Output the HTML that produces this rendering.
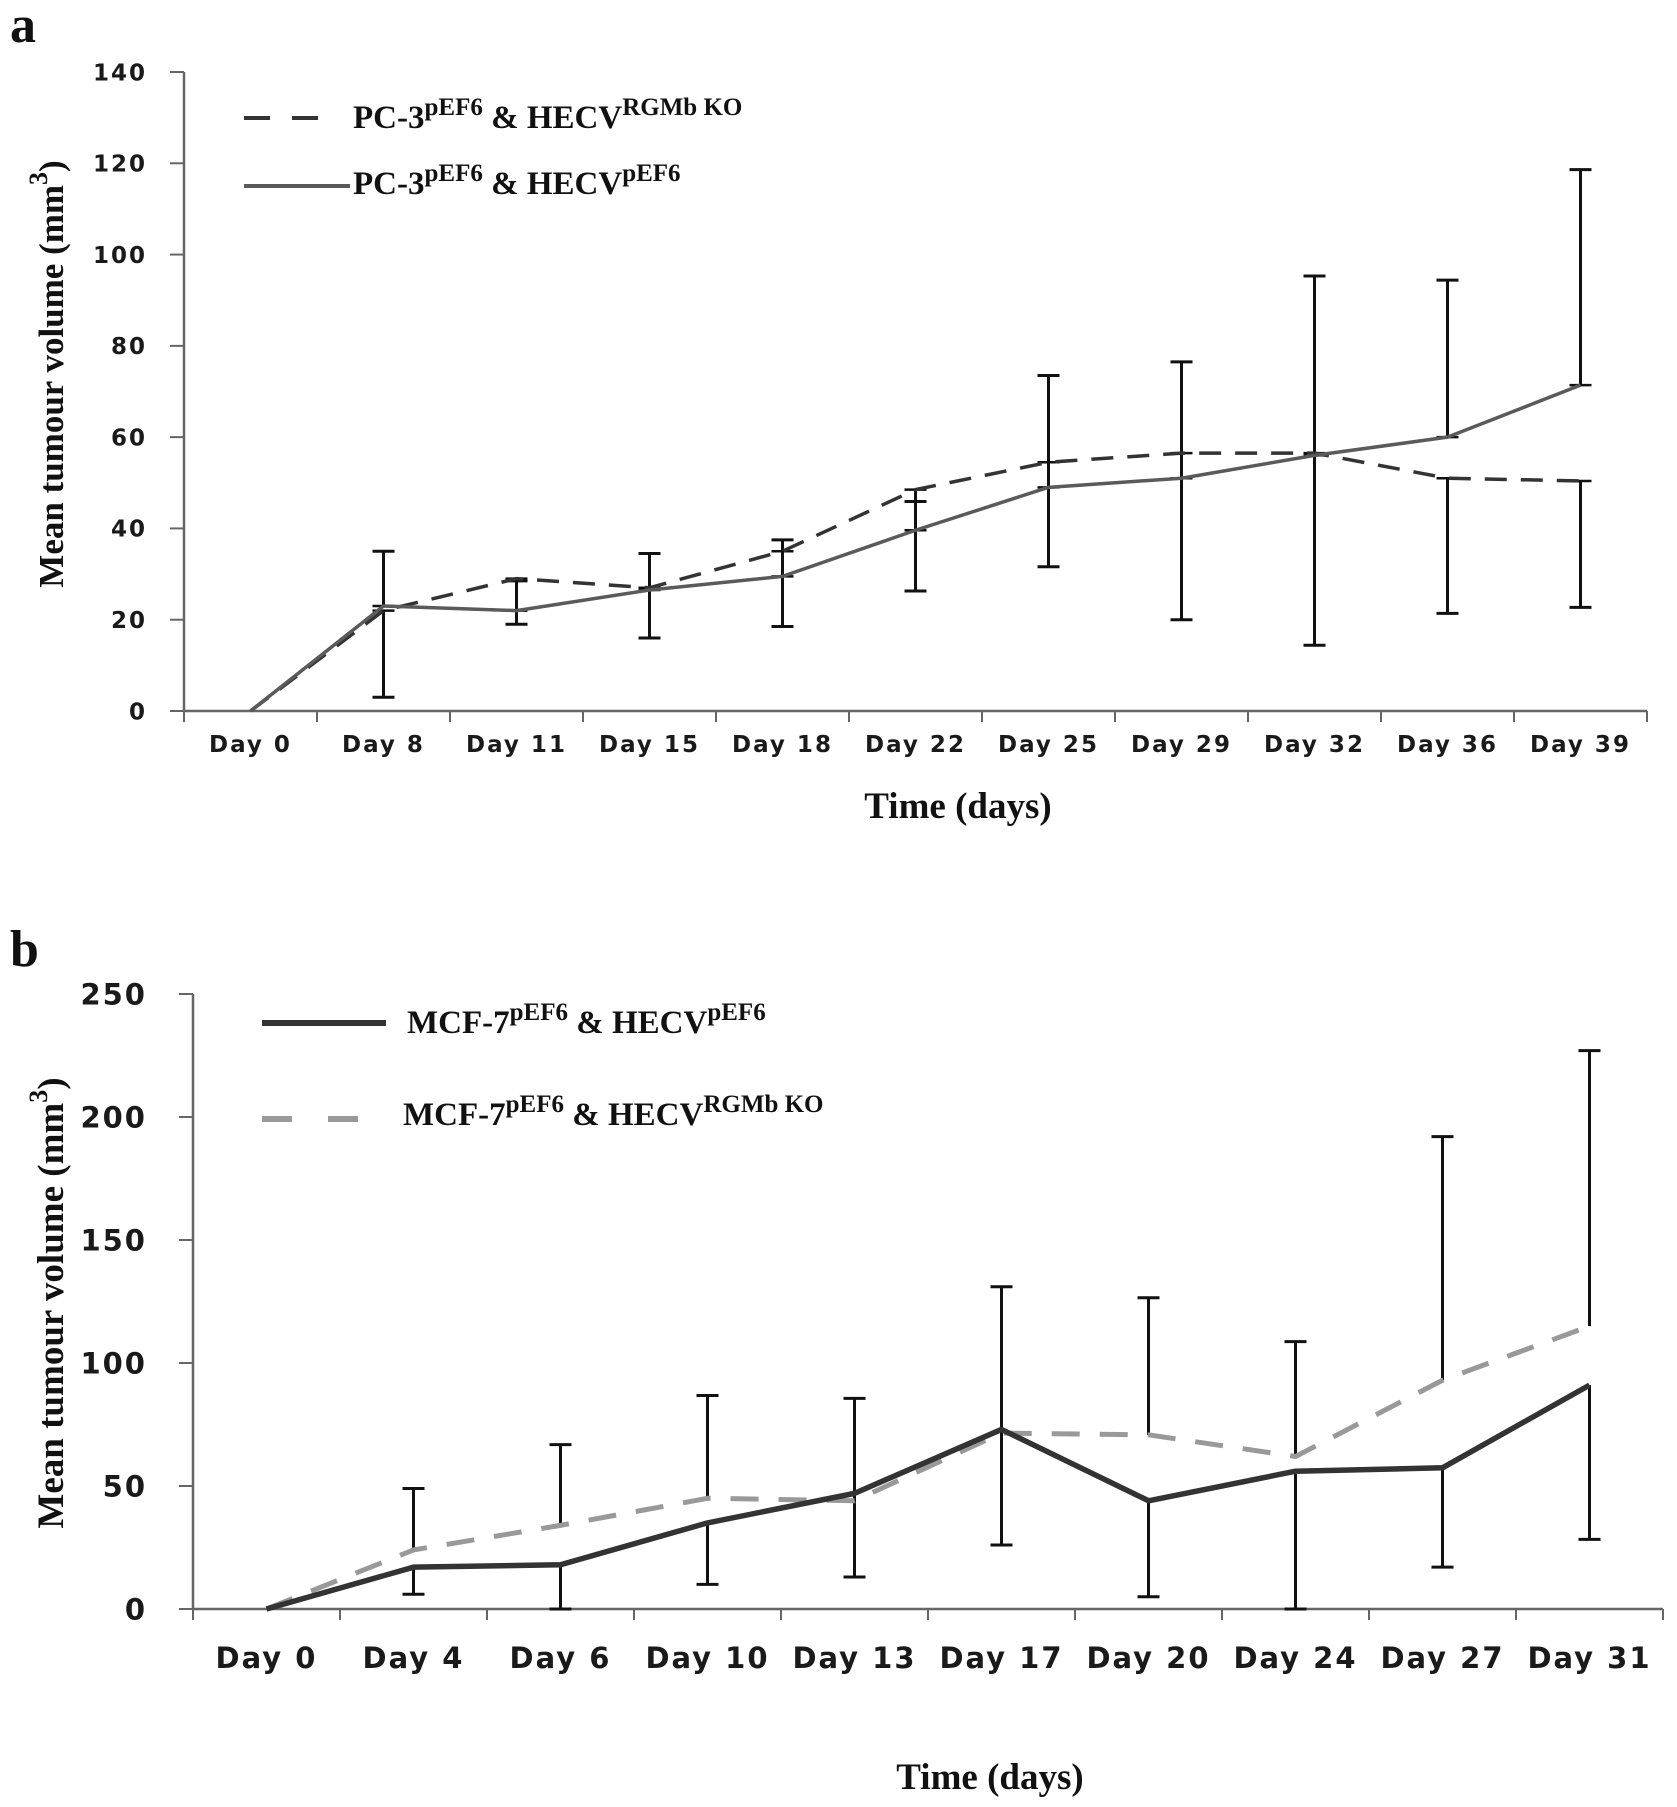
<!DOCTYPE html>
<html><head><meta charset="utf-8">
<style>
html,body{margin:0;padding:0;background:#fff;}
svg{display:block;}
.tick{font-family:"DejaVu Sans",sans-serif;font-weight:bold;font-size:23px;letter-spacing:2px;fill:#1a1a1a;}
.tickb{font-family:"DejaVu Sans",sans-serif;font-weight:bold;font-size:29px;letter-spacing:2px;fill:#1a1a1a;}
.ser{font-family:"Liberation Serif",serif;font-weight:bold;fill:#111;}
</style></head>
<body>
<svg id="chart" width="1677" height="1807" viewBox="0 0 1677 1807" xmlns="http://www.w3.org/2000/svg">
<text class="ser" x="10" y="42" font-size="52">a</text>
<text class="ser" x="10" y="966" font-size="52">b</text>
</svg>
<script>
// ---- Panel a data ----
const catsA = ["Day 0","Day 8","Day 11","Day 15","Day 18","Day 22","Day 25","Day 29","Day 32","Day 36","Day 39"];
const ticksA = [0,20,40,60,80,100,120,140];
const koA = [0,22,29,27,35,48.5,54.5,56.5,56.5,51,50.4];
const koLowA = [null,3,19,16,18.5,26.3,31.6,20,14.4,21.4,22.7];
const ctlA = [0,23,22,26.5,29.5,39.6,49,51,56,60,71.4];
const ctlHighA = [null,35,28.5,34.5,37.5,45.9,73.5,76.5,95.3,94.4,118.6];
// ---- Panel b data ----
const catsB = ["Day 0","Day 4","Day 6","Day 10","Day 13","Day 17","Day 20","Day 24","Day 27","Day 31"];
const ticksB = [0,50,100,150,200,250];
const ctlB = [0,17,18,35,47,73,44,56,57.4,91];
const ctlLowB = [null,6,0,10,13,26,5,0,17,28.3];
const koB = [0,24,34,45,44,71.5,70.8,62,93,115];
const koHighB = [null,49,66.8,86.8,85.6,131,126.5,108.7,192,227];

const NS="http://www.w3.org/2000/svg";
const svg=document.getElementById('chart');
function mk(tag,attrs,parent){const e=document.createElementNS(NS,tag);for(const k in attrs)e.setAttribute(k,attrs[k]);(parent||svg).appendChild(e);return e;}

function panel(o){
  const g=mk('g',{});
  
  
  const n=o.cats.length, step=(o.x1-o.x0)/n;
  const X=i=>o.x0+step*(i+0.5);
  const Y=v=>o.y0-(v-0)/(o.ymax)*(o.y0-o.yTop);
  const ya=mk('line',{x1:o.x0,y1:o.yTop,x2:o.x0,y2:o.y0,stroke:'#666','stroke-width':2.5},g);
  
  const xa=mk('line',{x1:o.x0,y1:o.y0,x2:o.x1,y2:o.y0,stroke:'#666','stroke-width':2.5},g);
  
  o.ticks.forEach(t=>{
    mk('line',{x1:o.x0-14,y1:Y(t),x2:o.x0,y2:Y(t),stroke:'#666','stroke-width':2},g);
    const tx=mk('text',{x:o.ylx,y:Y(t)+o.fs*0.36,'text-anchor':'end',class:o.tcls},g);
    
    tx.textContent=t;
  });
  for(let i=0;i<=n;i++) mk('line',{x1:o.x0+step*i,y1:o.y0,x2:o.x0+step*i,y2:o.y0+11,stroke:'#666','stroke-width':2},g);
  o.cats.forEach((c,i)=>{
    const tx=mk('text',{x:X(i),y:o.xly,'text-anchor':'middle',class:o.tcls},g);
    
    tx.textContent=c;
  });
  o.errs.forEach(er=>{
    er.means.forEach((m,i)=>{
      if(er.ends[i]===null)return;
      const e=er.ends[i];
      const ln=mk('line',{x1:X(i),y1:Y(m),x2:X(i),y2:Y(e),stroke:'#111','stroke-width':3},g);
      
      mk('line',{x1:X(i)-11,y1:Y(e),x2:X(i)+11,y2:Y(e),stroke:'#111','stroke-width':3},g);
      if(er.bothCaps) mk('line',{x1:X(i)-11,y1:Y(m),x2:X(i)+11,y2:Y(m),stroke:'#111','stroke-width':2.5},g);
    });
  });
  o.series.forEach(s=>{
    const p=mk('polyline',{points:s.vals.map((v,i)=>X(i)+','+Y(v)).join(' '),fill:'none',stroke:s.color,'stroke-width':s.w,'stroke-dasharray':s.dash||'none','stroke-linejoin':'round'},g);
    
  });
  o.legend.forEach(l=>{
    const lg=mk('g',{},g);
    
    mk('line',{x1:l.lx0,y1:l.ly,x2:l.lx1,y2:l.ly,stroke:l.color,'stroke-width':l.w,'stroke-dasharray':l.dash||'none'},lg);
    const t=mk('text',{x:l.tx,y:l.ty,class:'ser','font-size':o.lfs},lg);
    t.innerHTML=l.html;
  });
  const yt=mk('text',{x:0,y:0,class:'ser','font-size':o.ytfs,'text-anchor':'middle',transform:`translate(${o.ytx},${o.yty}) rotate(-90)`},g);
  
  yt.innerHTML='Mean tumour volume (mm<tspan dy="-16" font-size="26">3</tspan><tspan dy="16">)</tspan>';
  const xt=mk('text',{x:o.xtx,y:o.xty,class:'ser','font-size':37,'text-anchor':'middle'},g);
  
  xt.textContent='Time (days)';
}

const sup=(a)=>`<tspan dy="-13" font-size="25">${a}</tspan><tspan dy="13">`;
panel({name:'panel-a-chart',cats:catsA,ticks:ticksA,x0:184,x1:1647,y0:711,yTop:72,ymax:140,fs:23,tcls:'tick',xly:752,ylx:147,
  errs:[{means:ctlA,ends:ctlHighA,bothCaps:true},{means:koA,ends:koLowA,bothCaps:true}],
  series:[{name:'series-ko-dashed',vals:koA,color:'#333',w:3.5,dash:'22 14'},{name:'series-control-solid',vals:ctlA,color:'#5a5a5a',w:3.5}],
  lfs:33,legend:[
    {lx0:244,lx1:338,ly:118,color:'#333',w:4,dash:'26 22',tx:353,ty:128,html:'PC-3'+sup('pEF6')+' &amp; HECV'+sup('RGMb KO')+'</tspan></tspan>'},
    {lx0:244,lx1:350,ly:186,color:'#5a5a5a',w:4,tx:353,ty:194,html:'PC-3'+sup('pEF6')+' &amp; HECV'+sup('pEF6')+'</tspan></tspan>'}],
  ytfs:35,ytx:63,yty:374,xtx:958,xty:818});
panel({name:'panel-b-chart',cats:catsB,ticks:ticksB,x0:193,x1:1663,y0:1609,yTop:994,ymax:250,fs:29,tcls:'tickb',xly:1668,ylx:147,
  errs:[{means:koB,ends:koHighB},{means:ctlB,ends:ctlLowB}],
  series:[{name:'series-ko-dashed',vals:koB,color:'#999',w:5,dash:'28 20'},{name:'series-control-solid',vals:ctlB,color:'#333',w:5.5}],
  lfs:33,legend:[
    {lx0:262,lx1:386,ly:1023,color:'#333',w:6,tx:407,ty:1033,html:'MCF-7'+sup('pEF6')+' &amp; HECV'+sup('pEF6')+'</tspan></tspan>'},
    {lx0:262,lx1:380,ly:1119,color:'#999',w:6,dash:'30 36',tx:403,ty:1125,html:'MCF-7'+sup('pEF6')+' &amp; HECV'+sup('RGMb KO')+'</tspan></tspan>'}],
  ytfs:37,ytx:63,yty:1303,xtx:990,xty:1789});
</script>
</body></html>
